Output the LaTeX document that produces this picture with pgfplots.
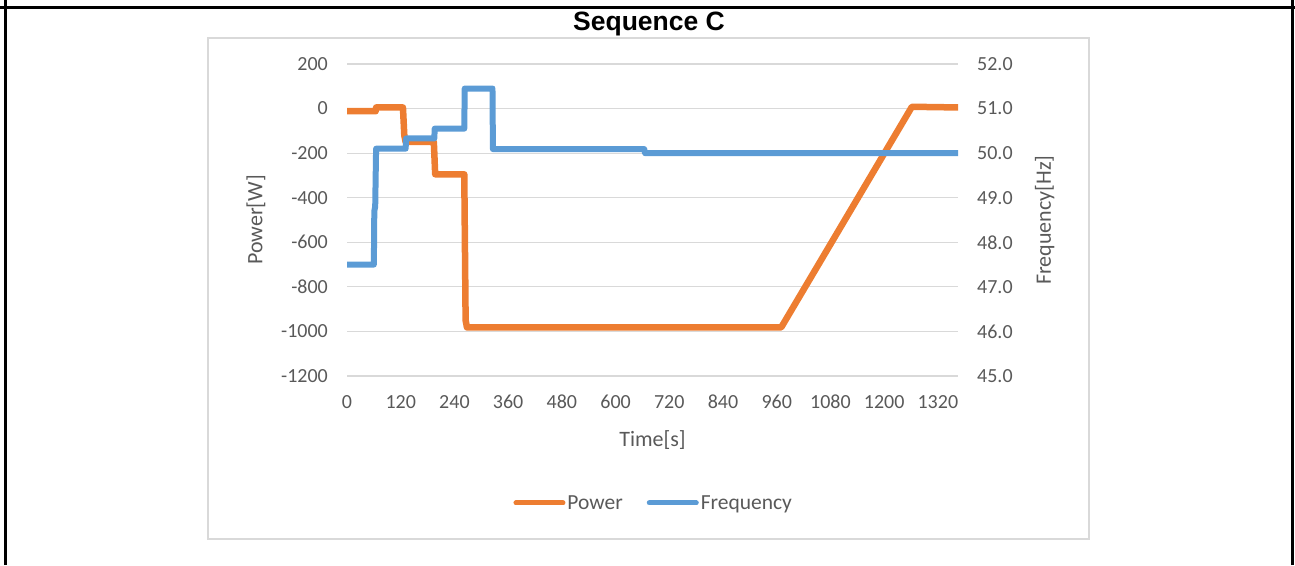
\documentclass[border=0pt]{standalone}
\usepackage{pgfplots}
\pgfplotsset{compat=1.18}
\usepackage{fontspec}
\setmainfont{Carlito}
\newfontfamily\arialfont{Liberation Sans}
\definecolor{xorange}{RGB}{237,125,49}
\definecolor{xblue}{RGB}{91,155,213}
\definecolor{xtext}{RGB}{89,89,89}
\definecolor{xgrid}{RGB}{217,217,217}
\begin{document}
\begin{tikzpicture}[x=1pt,y=1pt]
\path[use as bounding box] (0,0) rectangle (1295,565);
% outer table cell
\draw[black, line width=3pt] (0,557.5) -- (1295,557.5);
\draw[black, line width=3pt] (5.5,0) -- (5.5,565);
\draw[black, line width=3pt] (1292.5,0) -- (1292.5,565);
\node[font=\arialfont\bfseries\fontsize{26.5}{30}\selectfont, anchor=center] at (649,541) {Sequence C};
% chart area frame
\draw[xgrid, line width=1.3pt] (208,26) rectangle (1089,527);
\begin{axis}[
  at={(347pt,189pt)}, anchor=south west,
  scale only axis, width=611pt, height=312pt,
  xmin=0, xmax=1365, ymin=-1200, ymax=200,
  xtick={0,120,...,1320},
  xticklabels={0,120,240,360,480,600,720,840,960,1080,1200,1320},
  ytick={-1200,-1000,...,200},
  yticklabels={-1200,-1000,-800,-600,-400,-200,0,200},
  ymajorgrids, grid style={xgrid, line width=1.1pt},
  axis line style={draw=none}, major tick length=0pt, tick style={draw=none},
  ticklabel style={font=\fontsize{20}{24}\selectfont, text=xtext},
  xticklabel style={anchor=north, inner sep=0pt, yshift=-19pt},
  yticklabel style={anchor=east, inner sep=0pt, xshift=-19pt},
  xlabel={Time[s]}, ylabel={Power[W]},
  every axis x label/.style={at={(axis description cs:0.5,-0.205)}, anchor=center, font=\fontsize{22}{26}\selectfont, text=xtext},
  every axis y label/.style={at={(axis description cs:-0.149,0.5)}, rotate=90, anchor=center, font=\fontsize{22}{26}\selectfont, text=xtext},
]
\addplot[xorange, line width=6.5pt, line join=round, line cap=round] coordinates {
(0,-12) (64,-12) (65,5) (125,5) (128,-120) (131,-150) (194,-150) (197,-295) (262,-295) (265,-950) (268,-982) (970,-982) (1262,8) (1365,5)
};
\end{axis}
\begin{axis}[
  at={(347pt,189pt)}, anchor=south west,
  scale only axis, width=611pt, height=312pt,
  xmin=0, xmax=1365, ymin=45, ymax=52,
  hide x axis,
  yticklabel pos=right, ytick pos=right,
  ytick={45,46,...,52},
  yticklabels={45.0,46.0,47.0,48.0,49.0,50.0,51.0,52.0},
  axis line style={draw=none}, major tick length=0pt, tick style={draw=none},
  ticklabel style={font=\fontsize{20}{24}\selectfont, text=xtext},
  yticklabel style={anchor=west, inner sep=0pt, xshift=19pt},
  ylabel={Frequency[Hz]},
  every axis y label/.style={at={(axis description cs:1.142,0.5)}, rotate=90, anchor=center, font=\fontsize{22}{26}\selectfont, text=xtext},
  legend columns=2,
  legend style={at={(axis description cs:0.502,-0.407)}, anchor=center, draw=none, fill=none,
    font=\fontsize{21.5}{25}\selectfont, text=xtext,
    /tikz/every even column/.append style={column sep=22pt}},
  legend image code/.code={\draw[#1, line width=5pt, line cap=round] (0pt,0pt) -- (47pt,0pt);},
]
\addlegendimage{xorange}
\addlegendentry{Power}
\addplot[xblue, line width=6pt, line join=round, line cap=round] coordinates {
(0,47.5) (60,47.5) (61,48.7) (63,48.8) (65,50.1) (131,50.1) (132,50.33) (195,50.33) (196,50.55) (262,50.55) (263,51.45) (325,51.45) (326,50.09) (664,50.09) (666,50.0) (1365,50.0)
};
\addlegendentry{Frequency}
\end{axis}
\end{tikzpicture}
\end{document}
